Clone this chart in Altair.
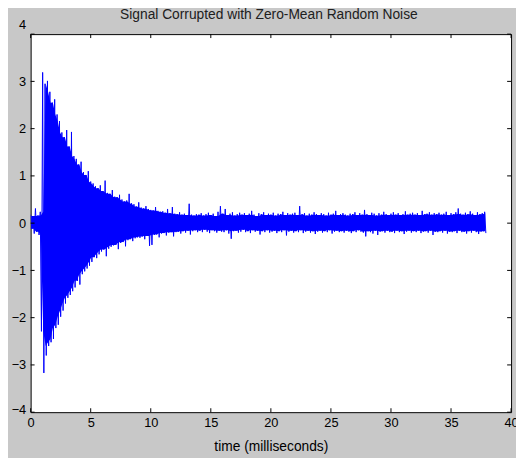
import altair as alt
import pandas as pd

title_text = "Signal Corrupted with Zero-Mean Random Noise"
x_title = "time (milliseconds)"
x_ticks = [0, 5, 10, 15, 20, 25, 30, 35, 40]
y_ticks = [-4, -3, -2, -1, 0, 1, 2, 3, 4]

# Envelope: upper peaks at t = 0.0, 0.2, 0.4, ... ms
step = 0.2
upper = [
    0.18, 0.15, 0.31, 0.16, 0.24,
    3.19, 2.95, 3.01, 2.78, 2.55,
    2.62, 2.30, 2.16, 1.92, 1.82,
    1.97, 1.62, 1.93, 1.42, 1.36,
    1.24, 1.30, 1.08, 1.02, 1.10,
    0.88, 0.84, 0.78, 0.74, 0.80,
    0.68, 0.90, 0.64, 0.62, 0.70,
    0.56, 0.55, 0.60, 0.50, 0.46,
    0.48, 0.62, 0.42, 0.40, 0.35,
    0.44, 0.33, 0.31, 0.36, 0.30,
    0.28, 0.27, 0.34, 0.26, 0.24,
    0.25, 0.22, 0.30, 0.21, 0.34,
    0.20, 0.19, 0.23, 0.18, 0.20,
    0.17, 0.41, 0.18, 0.16, 0.19,
    0.18, 0.21, 0.16, 0.19, 0.22, 0.17, 0.20, 0.15, 0.24, 0.36,
    0.20, 0.30, 0.17, 0.20, 0.23, 0.16, 0.19, 0.22, 0.18, 0.21,
    0.17, 0.20, 0.26, 0.18, 0.15, 0.21, 0.19, 0.23, 0.17, 0.20,
    0.18, 0.22, 0.16, 0.20, 0.19, 0.24, 0.17, 0.21, 0.18, 0.20,
    0.22, 0.17, 0.36, 0.19, 0.21, 0.16, 0.20, 0.18, 0.23, 0.19,
    0.17, 0.21, 0.19, 0.16, 0.22, 0.18, 0.20, 0.26, 0.17, 0.19,
    0.21, 0.18, 0.16, 0.20, 0.19, 0.23, 0.17, 0.21, 0.18, 0.28,
    0.19, 0.17, 0.22, 0.20, 0.16, 0.21, 0.18, 0.24, 0.19, 0.17,
    0.20, 0.23, 0.18, 0.21, 0.17, 0.19, 0.25, 0.18, 0.20, 0.22,
    0.18, 0.21, 0.17, 0.26, 0.19, 0.20, 0.23, 0.18, 0.21, 0.19,
    0.22, 0.18, 0.20, 0.24, 0.17, 0.21, 0.19, 0.23, 0.31, 0.20,
    0.18, 0.22, 0.19, 0.25, 0.20, 0.17, 0.23, 0.19, 0.21, 0.24,
]
# lower troughs at t = 0.1, 0.3, 0.5, ... ms
lower = [
    -0.12, -0.22, -0.18, -0.25, -2.29,
    -3.17, -2.80, -2.60, -2.52, -2.45,
    -2.22, -2.15, -1.98, -1.85, -1.70,
    -1.58, -1.52, -1.44, -1.36, -1.22,
    -1.30, -1.08, -1.02, -0.96, -0.90,
    -0.82, -0.72, -0.74, -0.66, -0.60,
    -0.56, -0.70, -0.54, -0.50, -0.47,
    -0.46, -0.55, -0.42, -0.40, -0.49,
    -0.36, -0.34, -0.38, -0.32, -0.30,
    -0.31, -0.28, -0.34, -0.27, -0.48,
    -0.46, -0.25, -0.24, -0.30, -0.22,
    -0.21, -0.26, -0.20, -0.19, -0.28,
    -0.19, -0.18, -0.22, -0.17, -0.20,
    -0.16, -0.24, -0.17, -0.15, -0.19,
    -0.16, -0.19, -0.14, -0.18, -0.21, -0.15, -0.17, -0.20, -0.16, -0.18,
    -0.19, -0.15, -0.22, -0.33, -0.17, -0.16, -0.20, -0.18, -0.14, -0.19,
    -0.17, -0.21, -0.15, -0.18, -0.16, -0.24, -0.17, -0.19, -0.15, -0.20,
    -0.18, -0.16, -0.21, -0.17, -0.19, -0.15, -0.26, -0.18, -0.16, -0.20,
    -0.17, -0.19, -0.15, -0.21, -0.18, -0.16, -0.20, -0.17, -0.23, -0.18,
    -0.16, -0.20, -0.17, -0.19, -0.15, -0.22, -0.18, -0.16, -0.19, -0.17,
    -0.20, -0.16, -0.18, -0.21, -0.17, -0.19, -0.15, -0.18, -0.20, -0.28,
    -0.17, -0.19, -0.22, -0.16, -0.25, -0.18, -0.17, -0.20, -0.16, -0.19,
    -0.18, -0.21, -0.16, -0.19, -0.17, -0.23, -0.18, -0.16, -0.20, -0.17,
    -0.19, -0.16, -0.21, -0.18, -0.17, -0.20, -0.16, -0.25, -0.18, -0.19,
    -0.17, -0.20, -0.16, -0.22, -0.18, -0.19, -0.17, -0.21, -0.16, -0.19,
    -0.18, -0.22, -0.17, -0.20, -0.16, -0.19, -0.23, -0.18, -0.17, -0.21,
]
assert len(upper) == len(lower)

# zig-zag trace through the read peaks and troughs
rows = []
for k, (u, l) in enumerate(zip(upper, lower)):
    t = round(step * k, 2)
    rows.append({"t": t, "v": u})
    rows.append({"t": round(t + step / 2, 2), "v": l})
df = pd.DataFrame(rows)

# dense core of the trace: the band that every neighbouring sample fills
core = pd.DataFrame({
    "t": [round(step * k + step / 4, 3) for k in range(len(upper))],
    "v": pd.Series(upper).rolling(3, center=True, min_periods=1).min(),
    "v2": pd.Series(lower).rolling(3, center=True, min_periods=1).max(),
})

W, H = 488, 384
FONT = "Liberation Sans"
BLUE = "#0000ff"
TICK_FS = 13
TITLE_FS = 14

xs = alt.Scale(domain=[0, 40], nice=False, zero=False)
ys = alt.Scale(domain=[-4, 4], nice=False, zero=False)

x_axis = alt.Axis(values=x_ticks, title=x_title, ticks=False, domain=False, grid=False,
                  labelPadding=5, titlePadding=10, labelFlush=False, labelOverlap=False,
                  format="d", labelFont=FONT, labelFontSize=TICK_FS, labelColor="black",
                  titleFont=FONT, titleFontSize=TITLE_FS, titleFontWeight="normal",
                  titleColor="black")
y_axis = alt.Axis(values=y_ticks, title=None, ticks=False, domain=False, grid=False,
                  labelPadding=5, labelFlush=False, labelOverlap=False, format="d",
                  labelFont=FONT, labelFontSize=TICK_FS, labelColor="black",
                  labelOffset={"condition": [{"test": "datum.value == 4", "value": -10},
                                             {"test": "datum.value == -4", "value": -3}],
                               "value": 0})

band = alt.Chart(core).mark_area(color=BLUE, opacity=1, clip=True).encode(
    x=alt.X("t:Q", scale=xs, axis=x_axis),
    y=alt.Y("v:Q", scale=ys, axis=y_axis),
    y2="v2:Q",
)

line = alt.Chart(df).mark_line(color=BLUE, strokeWidth=1, clip=True).encode(
    x=alt.X("t:Q", scale=xs, axis=x_axis),
    y=alt.Y("v:Q", scale=ys, axis=y_axis),
)

xt = pd.DataFrame({"t": x_ticks})
yt = pd.DataFrame({"v": y_ticks})

tick_len = 4
bottom_ticks = alt.Chart(xt).mark_rule(color="black", strokeWidth=1).encode(
    x=alt.X("t:Q", scale=xs, axis=x_axis), y=alt.value(H), y2=alt.value(H - tick_len))
top_ticks = alt.Chart(xt).mark_rule(color="black", strokeWidth=1).encode(
    x=alt.X("t:Q", scale=xs, axis=x_axis), y=alt.value(0), y2=alt.value(tick_len))
left_ticks = alt.Chart(yt).mark_rule(color="black", strokeWidth=1).encode(
    y=alt.Y("v:Q", scale=ys, axis=y_axis), x=alt.value(0), x2=alt.value(tick_len))
right_ticks = alt.Chart(yt).mark_rule(color="black", strokeWidth=1).encode(
    y=alt.Y("v:Q", scale=ys, axis=y_axis), x=alt.value(W), x2=alt.value(W - tick_len))

# chart title, drawn as text above the plot box
title_mark = alt.Chart(pd.DataFrame({"label": [title_text]})).mark_text(
    font=FONT, fontSize=TITLE_FS, color="#202020", align="center", baseline="alphabetic"
).encode(text="label:N", x=alt.value(W / 2 - 2), y=alt.value(-15))

chart = alt.layer(band, line, bottom_ticks, top_ticks, left_ticks, right_ticks,
                  title_mark).properties(
    width=W, height=H,
    autosize=alt.AutoSizeParams(type="none"),
    padding={"left": 23, "top": 23, "right": 5, "bottom": 43},
    background="#c8c8c8",
).configure_view(fill="white", stroke="black", strokeWidth=1)

chart.save("out.html", embed_options={"renderer": "svg", "actions": False})
